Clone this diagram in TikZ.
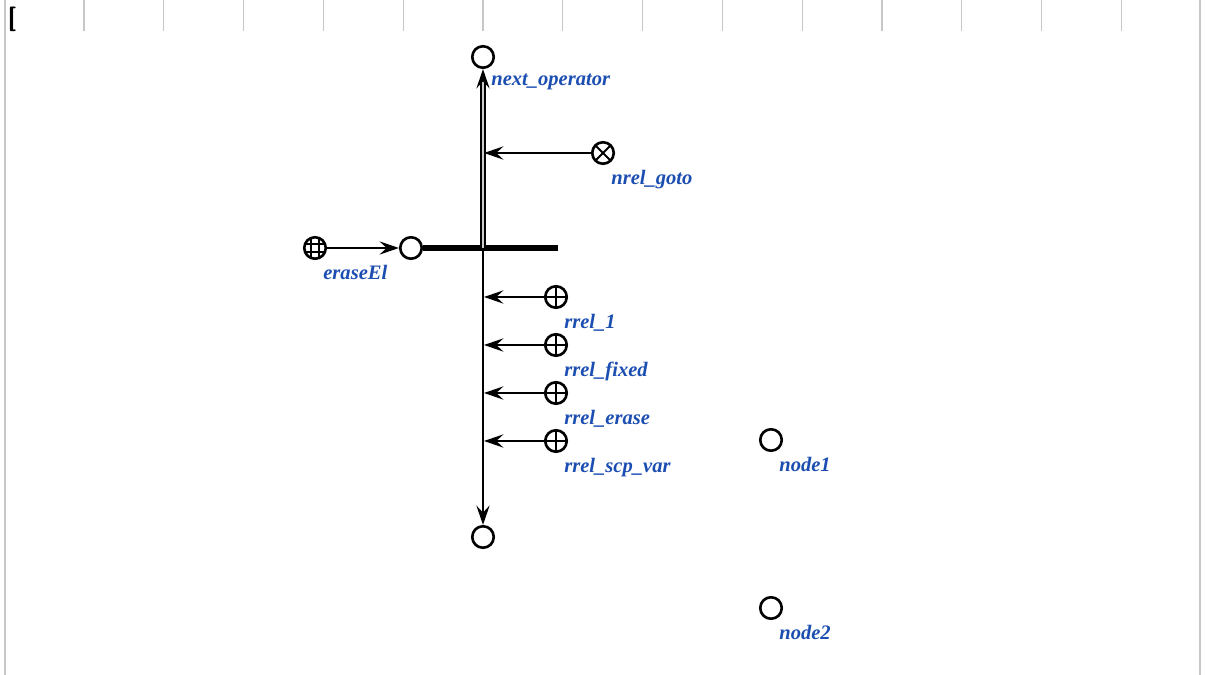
\documentclass[tikz,border=0pt]{standalone}
\usepackage{fontspec}
\setmainfont{Liberation Serif}
\usepackage{tikz}
\usetikzlibrary{arrows.meta,calc}
\definecolor{sclab}{RGB}{28,78,178}
\tikzset{
  % --- sc nodes ---------------------------------------------------------
  scnode/.style  ={circle, draw, line width=1.5pt, fill=white,
                   minimum size=4.3mm, inner sep=0},
  screl/.style   ={scnode, path picture={%
                   \draw[line width=1.1pt] (path picture bounding box.north) -- (path picture bounding box.south)
                     (path picture bounding box.west) -- (path picture bounding box.east);}},
  scnrel/.style  ={scnode, path picture={%
                   \draw[line width=1.1pt] (path picture bounding box.north west) -- (path picture bounding box.south east)
                     (path picture bounding box.south west) -- (path picture bounding box.north east);}},
  scclass/.style ={scnode, path picture={%
                   \foreach \d in {-0.8mm,0.8mm}{%
                     \draw[line width=0.8pt] ([xshift=\d]path picture bounding box.north) -- ([xshift=\d]path picture bounding box.south)
                       ([yshift=\d]path picture bounding box.west) -- ([yshift=\d]path picture bounding box.east);}}},
  % --- labels ------------------------------------------------------------
  lab/.style     ={font=\fontsize{11.7}{14}\selectfont\bfseries\itshape, text=sclab, inner sep=1pt,
                   xshift=-0.6mm, yshift=-1.4mm},
  % --- connectors ----------------------------------------------------------
  sctip/.style   ={-{Stealth[length=11pt, width=7.5pt, inset=4pt]}},
  scarc/.style   ={sctip, line width=1.3pt},
  scarcd/.style  ={sctip, line width=1pt, double=black!20, double distance=1.4pt},
  scbus/.style   ={line width=3.6pt},
  % --- page frame ---------------------------------------------------------
  ruler/.style   ={draw=black!22, line width=0.6pt},
}

\begin{document}
\begin{tikzpicture}[x=0.02cm, y=-0.02cm]
  \useasboundingbox (0,0) rectangle (1205,675);

  % ============================= frame / ruler =============================
  \draw[ruler, line width=0.9pt] (5,0) -- (5,675);
  \draw[ruler, line width=0.9pt] (1200,0) -- (1200,675);
  \foreach \i in {1,...,14}
    \draw[ruler] ({4.2+79.8*\i},0) -- ++(0,31);
  \node[font=\fontsize{14}{16}\selectfont\bfseries\sffamily, inner sep=0] (brk) at (12,19) {[};

  % ============================= operator =============================
  \node[scnode, label={[lab, anchor=north west]-40:next\_operator}] (nextop) at (483,57) {};
  \node[scnode] (procnode) at (411,248) {};
  \node[scnode] (endnode)  at (483,537) {};
  \coordinate (bus)    at (483,248);
  \coordinate (busend) at (558,248);

  \node[scnrel, label={[lab, anchor=north west]-40:nrel\_goto}] (gotorel) at (603,153) {};
  \node[scclass, label={[lab, anchor=north west]-40:eraseEl}] (eraseel) at (315,248) {};

  % role relations
  \node[screl, label={[lab, anchor=north west]-40:rrel\_1}]       (rrelone)   at (556,297) {};
  \node[screl, label={[lab, anchor=north west]-40:rrel\_fixed}]   (rrelfixed) at (556,345) {};
  \node[screl, label={[lab, anchor=north west]-40:rrel\_erase}]   (rrelerase) at (556,393) {};
  \node[screl, label={[lab, anchor=north west]-40:rrel\_scp\_var}] (rrelscp)   at (556,441) {};

  % free nodes
  \node[scnode, label={[lab, anchor=north west]-40:node1}] (nodeone) at (771,440) {};
  \node[scnode, label={[lab, anchor=north west]-40:node2}] (nodetwo) at (771,608) {};

  % ============================= edges =============================
  \draw[scbus] (procnode) -- (busend);
  \draw[scarcd] (bus) -- (nextop);
  \draw[scarc] (bus) -- (endnode);
  \draw[scarc] (eraseel) -- (procnode);

  \coordinate (pgoto) at (484,153);
  \coordinate (pone)  at (484,297);
  \coordinate (pfix)  at (484,345);
  \coordinate (pers)  at (484,393);
  \coordinate (pscp)  at (484,441);
  \draw[scarc] (gotorel)   -- (pgoto);
  \draw[scarc] (rrelone)   -- (pone);
  \draw[scarc] (rrelfixed) -- (pfix);
  \draw[scarc] (rrelerase) -- (pers);
  \draw[scarc] (rrelscp)   -- (pscp);

\end{tikzpicture}
\end{document}
